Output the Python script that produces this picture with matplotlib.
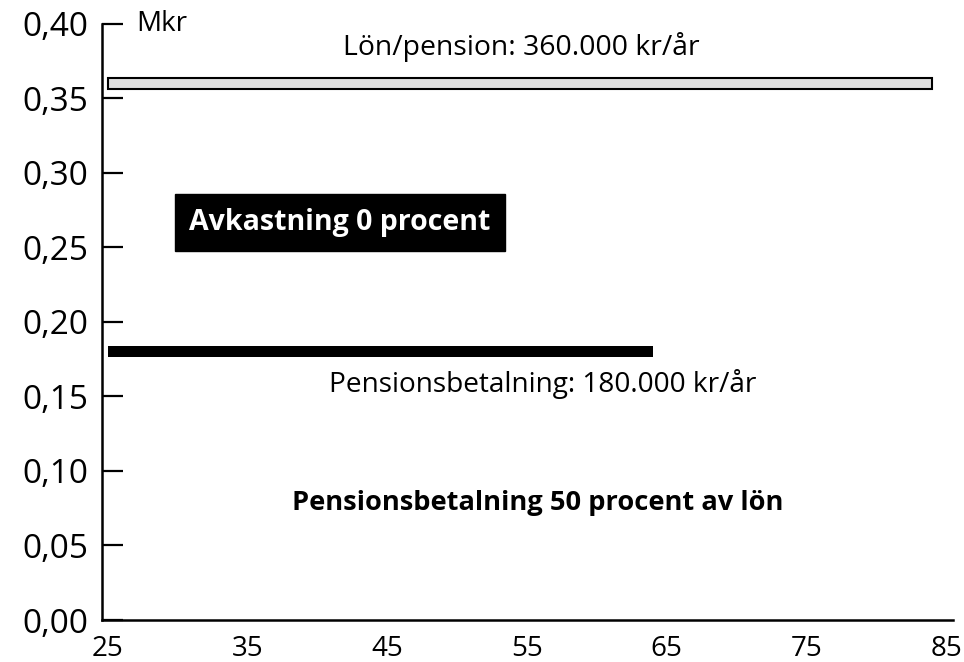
import matplotlib
matplotlib.use("Agg")
import matplotlib.pyplot as plt

# data (Mkr per year, ages)
series_names = ["Lön/pension", "Pensionsbetalning"]
start_ages = [25, 25]
end_ages = [84, 64]
values = [0.36, 0.18]
bar_colors = ["#e0e0e0", "black"]

x_ticks = [25, 35, 45, 55, 65, 75, 85]
y_ticks = [0.00, 0.05, 0.10, 0.15, 0.20, 0.25, 0.30, 0.35, 0.40]
y_tick_labels = ["%.2f" % v for v in y_ticks]
y_tick_labels = [s.replace(".", ",") for s in y_tick_labels]

plt.rcParams['font.family'] = ['Open Sans', 'DejaVu Sans']


def plot_graph():
    fig = plt.figure(figsize=(9.64, 6.62), dpi=100)
    ax = fig.add_axes([0.1058, 0.0634, 0.8828, 0.9011])

    # horizontal bars for the two payment streams
    heights = [0.0072, 0.0078]
    for i in range(len(values)):
        ax.barh(values[i], end_ages[i] - start_ages[i], left=start_ages[i],
                height=heights[i], color=bar_colors[i], edgecolor="black",
                linewidth=1.5 if i == 0 else 0)

    ax.set_xlim(24.57, 85.5)
    ax.set_ylim(0, 0.40)

    ax.set_xticks(x_ticks)
    ax.set_xticklabels([str(t) for t in x_ticks], fontsize=20)
    ax.set_yticks(y_ticks)
    ax.set_yticklabels(y_tick_labels, fontsize=24)

    ax.tick_params(axis="y", direction="in", length=15, width=1.6, pad=10)
    ax.tick_params(axis="x", length=0, pad=11)

    for s in ["top", "right"]:
        ax.spines[s].set_visible(False)
    for s in ["left", "bottom"]:
        ax.spines[s].set_linewidth(1.8)

    # texts
    ax.text(27.0, 0.40, "Mkr", fontsize=20, ha="left", va="center")
    ax.text(54.6, 0.3845, "Lön/pension: 360.000 kr/år", fontsize=20.4,
            ha="center", va="center")
    ax.text(56.1, 0.158, "Pensionsbetalning: 180.000 kr/år", fontsize=20.2,
            ha="center", va="center")
    ax.text(41.6, 0.2665, "Avkastning 0 procent", fontsize=20.5, color="white",
            fontweight="bold", ha="center", va="center",
            bbox=dict(facecolor="black", edgecolor="black", boxstyle="square,pad=0.5"))
    ax.text(55.8, 0.0786, "Pensionsbetalning 50 procent av lön", fontsize=19.6,
            fontweight="bold", ha="center", va="center")

    fig.savefig("out.png", dpi=100)


def main():
    plot_graph()


if __name__ == "__main__":
    main()
